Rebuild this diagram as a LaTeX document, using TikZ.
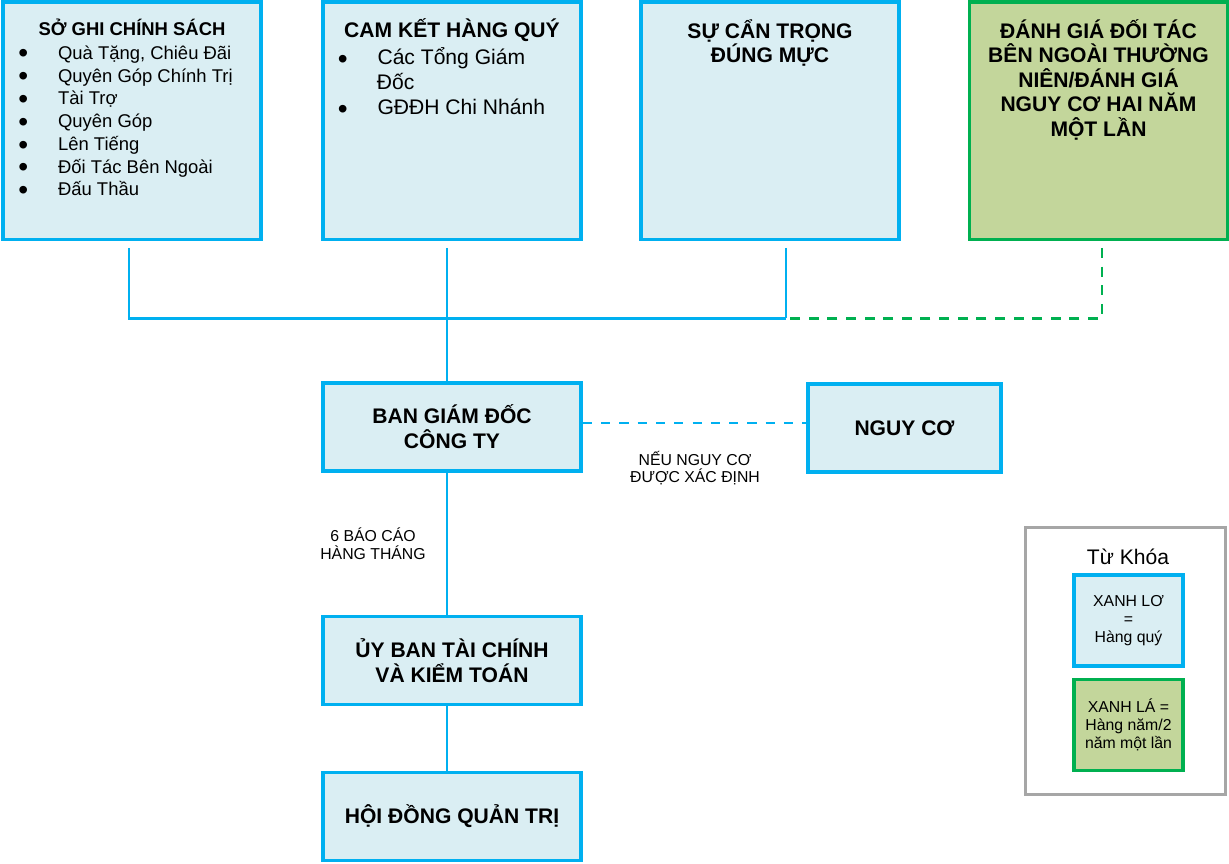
\documentclass[tikz,border=0pt]{standalone}
\usepackage{fontspec}
\setmainfont{Liberation Sans}
\usepackage{xcolor}

\definecolor{skyline}{HTML}{00B0F0}
\definecolor{skyfill}{HTML}{DAEEF3}
\definecolor{leafline}{HTML}{00B050}
\definecolor{leaffill}{HTML}{C3D69B}
\definecolor{keygray}{HTML}{A6A6A6}

\newcommand{\dotmark}{\makebox[0.794cm][l]{\fontsize{16}{16}\selectfont\raisebox{-2pt}[0pt][0pt]{\textbullet}}}

\begin{document}
\begin{tikzpicture}[
    x=0.02cm, y=-0.02cm,
    topbox/.style={draw=skyline, fill=skyfill, line width=2.2pt, minimum width=5.16cm, minimum height=4.75cm, inner sep=0pt},
    midbox/.style={draw=skyline, fill=skyfill, line width=2.2pt, minimum width=5.16cm, minimum height=1.76cm, align=center, font=\fontsize{12}{14.2}\selectfont\bfseries},
    heading/.style={anchor=base, align=center, inner sep=0pt, font=\fontsize{12}{14}\selectfont\bfseries},
    entry/.style={anchor=base west, inner sep=0pt, font=\fontsize{12}{14}\selectfont},
    keybox/.style={draw=skyline, fill=skyfill, line width=2pt, minimum width=2.18cm, minimum height=1.82cm, align=center, font=\fontsize{9}{10.2}\selectfont},
    note/.style={align=center, inner sep=0pt, font=\fontsize{9}{10}\selectfont},
    link/.style={draw=skyline, line width=1.4pt},
    annual/.style={draw=leafline, line width=1.4pt, dash pattern=on 5.7pt off 4.9pt},
    riskline/.style={draw=skyline, line width=1.4pt, dash pattern=on 5.2pt off 5.2pt}
]
\useasboundingbox (0,0) rectangle (1229,864);

% Policy register (top left)
\node[topbox] (policy) at (132,120.8) {};
\node[heading, font=\fontsize{10.5}{12.6}\selectfont\bfseries] (policyhead) at (132,36) {SỞ GHI CHÍNH SÁCH};
\node[entry, font=\fontsize{10.5}{12.6}\selectfont] (p1) at (18,59.3) {\dotmark Quà Tặng, Chiêu Đãi};
\node[entry, font=\fontsize{10.5}{12.6}\selectfont] (p2) at (18,82.2) {\dotmark Quyên Góp Chính Trị};
\node[entry, font=\fontsize{10.5}{12.6}\selectfont] (p3) at (18,105) {\dotmark Tài Trợ};
\node[entry, font=\fontsize{10.5}{12.6}\selectfont] (p4) at (18,127.8) {\dotmark Quyên Góp};
\node[entry, font=\fontsize{10.5}{12.6}\selectfont] (p5) at (18,150.6) {\dotmark Lên Tiếng};
\node[entry, font=\fontsize{10.5}{12.6}\selectfont] (p6) at (18,173.3) {\dotmark Đối Tác Bên Ngoài};
\node[entry, font=\fontsize{10.5}{12.6}\selectfont] (p7) at (18,195.6) {\dotmark Đấu Thầu};

% Quarterly commitment
\node[topbox] (commit) at (452,120.8) {};
\node[heading] (commithead) at (452,37.3) {CAM KẾT HÀNG QUÝ};
\node[entry] (c1) at (337.5,65) {\dotmark Các Tổng Giám};
\node[entry] (c1b) at (376.5,89.3) {Đốc};
\node[entry] (c2) at (337.5,115) {\dotmark GĐĐH Chi Nhánh};

% Due diligence
\node[topbox] (care) at (770,120.8) {};
\node[heading] (carehead) at (770,63) {SỰ CẨN TRỌNG\\ĐÚNG MỰC};

% Annual partner review (green)
\node[topbox, draw=leafline, fill=leaffill] (review) at (1098.5,120.8) {};
\node[heading] (reviewhead) at (1098.5,136.5) {ĐÁNH GIÁ ĐỐI TÁC\\BÊN NGOÀI THƯỜNG\\NIÊN/ĐÁNH GIÁ\\NGUY CƠ HAI NĂM\\MỘT LẦN};

% Chain of reporting
\node[midbox] (mgmt) at (452,427) {BAN GIÁM ĐỐC\\CÔNG TY};
\node[midbox, minimum width=3.86cm] (risk) at (904.5,428) {NGUY CƠ};
\node[midbox] (audit) at (452,660.5) {ỦY BAN TÀI CHÍNH\\VÀ KIỂM TOÁN};
\node[midbox] (directors) at (452,816.5) {HỘI ĐỒNG QUẢN TRỊ};

\node[note] (risknote) at (695,468) {NẾU NGUY CƠ\\ĐƯỢC XÁC ĐỊNH};
\node[note] (reportnote) at (373,543.5) {6 BÁO CÁO\\HÀNG THÁNG};

% Legend
\node[draw=keygray, line width=1.6pt, minimum width=4cm, minimum height=5.34cm] (key) at (1125.5,661) {};
\node[font=\fontsize{12}{14}\selectfont, inner sep=0pt] (keytitle) at (1128,557) {Từ Khóa};
\node[keybox] (keyblue) at (1128.5,620.5) {XANH LƠ\\=\\Hàng quý};
\node[keybox, draw=leafline, fill=leaffill] (keygreen) at (1128.5,725) {XANH LÁ =\\Hàng năm/2\\năm một lần};

% Connectors
\coordinate (drop1) at (129,248);
\coordinate (drop2) at (447,248);
\coordinate (drop3) at (786,248);
\coordinate (drop4) at (1102,248);
\coordinate (bus) at (129,318.5);
\draw[link] (drop1) -- (bus) -- (bus -| drop3);
\draw[link] (drop3) -- (bus -| drop3);
\draw[link] (drop2) -- (drop2 |- mgmt.north);
\draw[annual] (drop4) -- (bus -| drop4) -- (bus -| drop3);
\draw[riskline] ([yshift=0.075cm]mgmt.east) -- ([yshift=0.075cm]mgmt.east -| risk.west);
\draw[link] (mgmt.south -| drop2) -- (audit.north -| drop2);
\draw[link] (audit.south -| drop2) -- (directors.north -| drop2);

\end{tikzpicture}
\end{document}
